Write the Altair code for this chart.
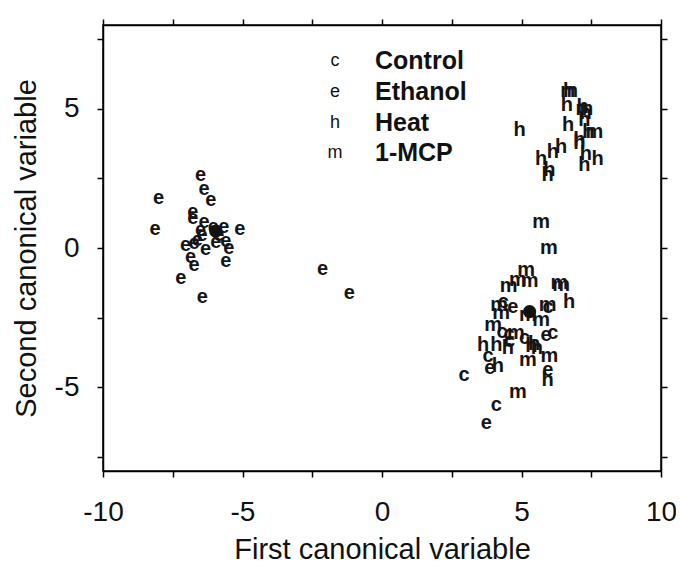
import altair as alt
import pandas as pd

# ---- data ----
control_x = [4.35, 5.95, 4.30, 4.55, 5.11, 6.12, 4.57, 3.80, 2.94, 4.10]
control_y = [-1.95, -2.12, -3.00, -3.08, -3.23, -3.05, -3.32, -3.89, -4.54, -5.62]

ethanol_x = [-6.50, -6.38, -6.14, -8.01, -6.78, -6.78, -6.38, -8.13, -5.67, -5.10,
             -6.50, -6.45, -6.62, -7.04, -6.74, -5.96, -5.60, -6.32, -5.49, -6.86,
             -6.74, -5.60, -7.21, -6.44, -6.05, -5.85, -2.13, -1.17,
             4.69, 5.88, 3.86, 5.94, 3.74]
ethanol_y = [2.61, 2.10, 1.72, 1.78, 1.30, 1.06, 0.94, 0.67, 0.76, 0.67,
             0.64, 0.45, 0.29, 0.10, 0.17, 0.23, 0.26, -0.04, -0.01, -0.31,
             -0.61, -0.47, -1.08, -1.74, 0.75, 0.45, -0.76, -1.62,
             -2.10, -3.11, -4.30, -4.37, -6.27]

heat_x = [4.93, 6.71, 6.63, 7.19, 7.30, 7.25, 6.67, 7.40, 7.07, 7.07,
          6.42, 6.12, 5.70, 6.00, 5.94, 7.31, 7.73, 7.25,
          6.71, 3.62, 4.10, 4.51, 5.35, 5.45, 5.55, 4.15, 5.94]
heat_y = [4.22, 5.65, 5.12, 5.06, 4.85, 4.60, 4.40, 4.16, 3.86, 3.75,
          3.62, 3.45, 3.21, 2.79, 2.61, 3.39, 3.21, 2.97,
          -1.92, -3.47, -3.47, -3.59, -3.53, -3.45, -3.60, -4.24, -4.72]

mcp_x = [5.70, 5.98, 5.17, 4.87, 5.29, 4.54, 6.36, 6.42, 4.20, 5.94,
         4.27, 5.70, 5.23, 3.98, 4.80, 5.23, 6.00, 4.87, 7.61, 6.71, 7.25]
mcp_y = [0.94, 0.01, -0.79, -1.14, -1.20, -1.36, -1.24, -1.32, -2.04, -2.04,
         -2.34, -2.58, -2.40, -2.76, -3.05, -4.00, -3.89, -5.18, 4.16, 5.65, 5.00]

centroid_x = [-5.96, 5.29]
centroid_y = [0.61, -2.28]

legend_codes = ["c", "e", "h", "m"]
legend_names = ["Control", "Ethanol", "Heat", "1-MCP"]

x_ticks = [-10, -7.5, -5, -2.5, 0, 2.5, 5, 7.5, 10]
y_ticks = [-7.5, -5, -2.5, 0, 2.5, 5, 7.5]

# ---- tables ----
rows = []
for code, xs, ys in [("c", control_x, control_y), ("e", ethanol_x, ethanol_y),
                     ("h", heat_x, heat_y), ("m", mcp_x, mcp_y)]:
    for a, b in zip(xs, ys):
        rows.append({"x": a, "y": b, "code": code})
pts = pd.DataFrame(rows)
cent = pd.DataFrame({"x": centroid_x, "y": centroid_y})

FONT = "Liberation Sans"
label_expr = "datum.value % 5 === 0 ? '' + datum.value : ''"

xscale = alt.Scale(domain=[-10, 10], nice=False, zero=False)
yscale = alt.Scale(domain=[-8, 8], nice=False, zero=False)

points = alt.Chart(pts).mark_text(font=FONT, fontSize=20, fontWeight="bold",
                                  color="#151515", align="center",
                                  baseline="middle").encode(
    x=alt.X("x:Q", scale=xscale,
            axis=alt.Axis(orient="bottom", values=x_ticks, labelExpr=label_expr,
                          labelPadding=21, labelFlush=False,
                          title="First canonical variable", titlePadding=9)),
    y=alt.Y("y:Q", scale=yscale,
            axis=alt.Axis(orient="left", values=y_ticks, labelExpr=label_expr,
                          labelPadding=18, labelFlush=False,
                          title="Second canonical variable", titlePadding=13)),
    text="code:N",
)

centroids = alt.Chart(cent).mark_circle(size=175, color="#111", opacity=1).encode(
    x=alt.X("x:Q", scale=xscale,
            axis=alt.Axis(orient="top", values=x_ticks, labels=False, title=None)),
    y=alt.Y("y:Q", scale=yscale,
            axis=alt.Axis(orient="right", values=y_ticks, labels=False, title=None)),
)

layers = [points, centroids]
row_y = [36, 67, 98, 128]
for i, (code, name) in enumerate(zip(legend_codes, legend_names)):
    d = pd.DataFrame({"code": [code], "name": [name]})
    layers.append(alt.Chart(d).mark_text(font=FONT, fontSize=18, color="#111",
                                         align="center", baseline="middle").encode(
        x=alt.value(232), y=alt.value(row_y[i]), text="code:N"))
    layers.append(alt.Chart(d).mark_text(font=FONT, fontSize=25, fontWeight="bold",
                                         color="#111", align="left",
                                         baseline="middle").encode(
        x=alt.value(272), y=alt.value(row_y[i]), text="name:N"))

chart = alt.layer(*layers).resolve_axis(x="independent", y="independent").properties(
    width=558, height=446,
    autosize=alt.AutoSizeParams(type="none"),
    padding={"left": 95, "top": 17, "right": 15, "bottom": 91},
).configure_view(stroke="black", strokeWidth=1.5).configure_axis(
    grid=False, domainColor="black", domainWidth=1.5, tickColor="black",
    tickWidth=1.5, tickSize=6, labelFont=FONT, labelFontSize=28, labelColor="#111",
    titleFont=FONT, titleFontSize=29, titleFontWeight="normal",
    titleColor="#111",
)

chart.save("out.html", embed_options={"renderer": "svg", "actions": False})
